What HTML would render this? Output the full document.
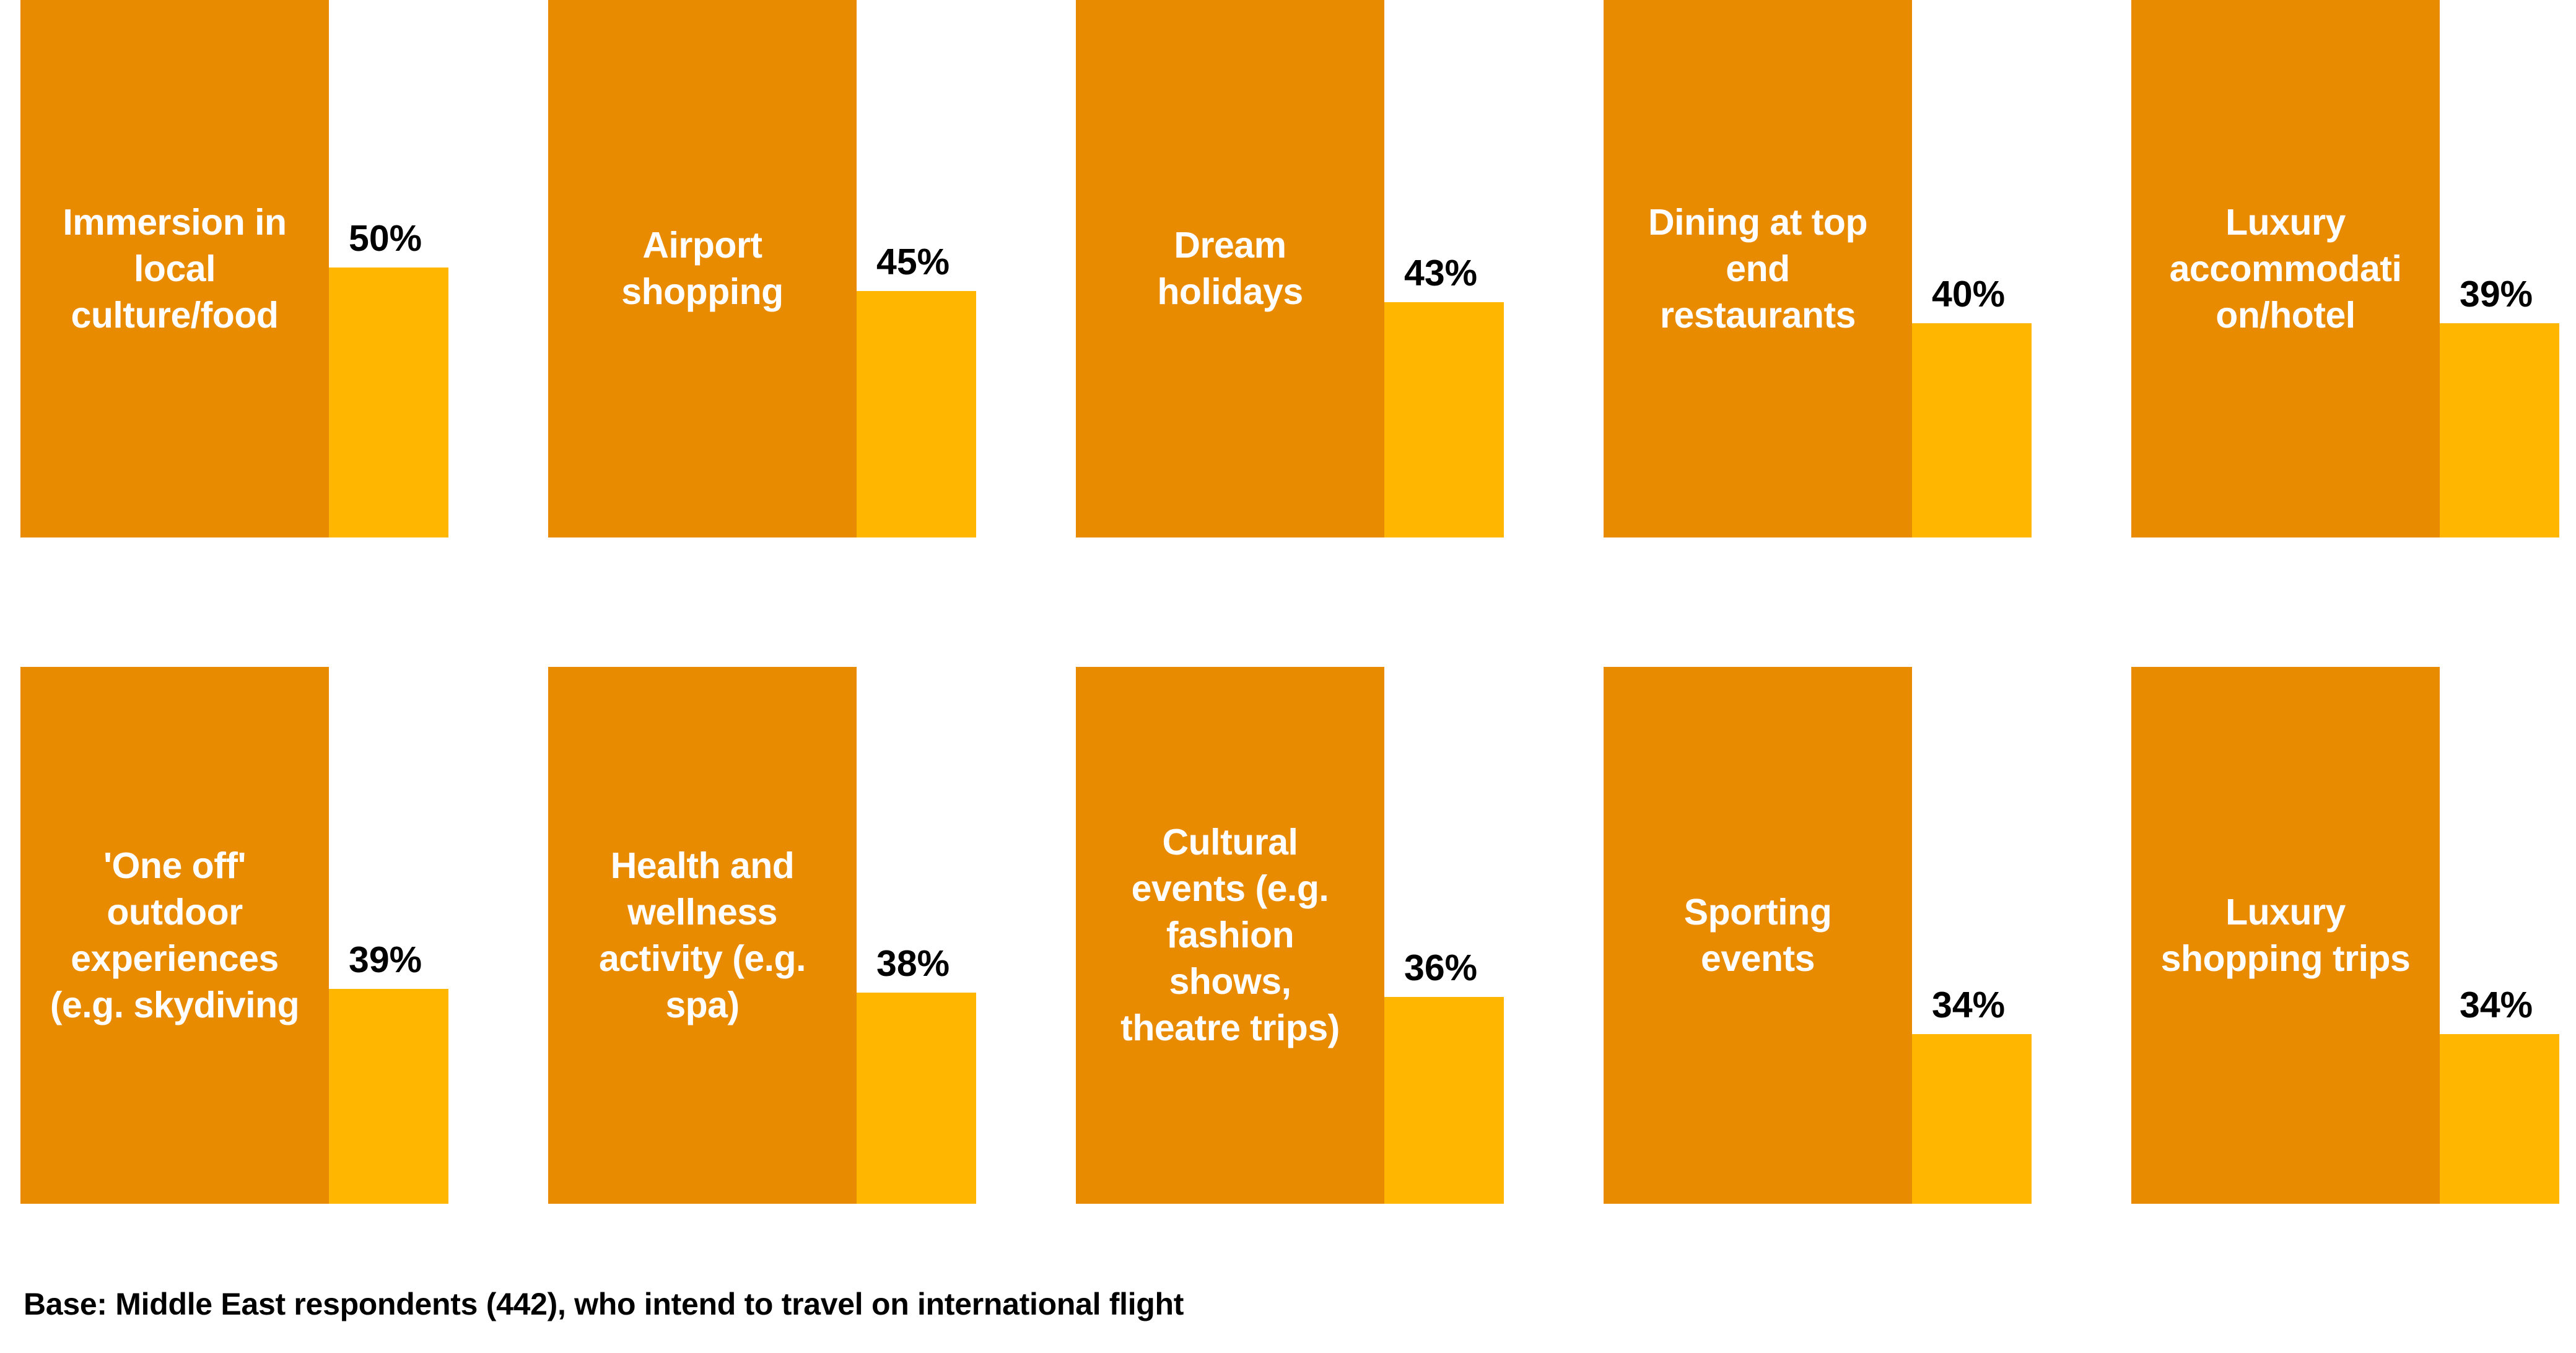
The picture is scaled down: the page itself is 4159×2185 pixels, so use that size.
<!DOCTYPE html>
<html><head><meta charset="utf-8"><style>
html,body{margin:0;padding:0;background:#fff;}
body{width:4159px;height:2185px;position:relative;overflow:hidden;font-family:"Liberation Sans",Arial,sans-serif;font-weight:bold;}
.o{position:absolute;background:#E98B00;width:498px;display:flex;align-items:center;justify-content:center;text-align:center;color:#fff;font-size:59px;line-height:75px;white-space:nowrap;letter-spacing:-0.5px;}
.y{position:absolute;background:#FFB600;width:193px;}
.p{position:absolute;font-size:59px;color:#000;line-height:1;}
.f{position:absolute;left:38px;top:2077px;font-size:50px;color:#000;white-space:nowrap;letter-spacing:-0.3px;}
</style></head><body>
<div class="o" style="left:33px;top:0;height:868px">Immersion in<br>local<br>culture/food</div>
<div class="y" style="left:531px;top:432px;height:436px"></div>
<div class="p" style="left:563px;top:356px">50%</div>

<div class="o" style="left:885px;top:0;height:868px">Airport<br>shopping</div>
<div class="y" style="left:1383px;top:470px;height:398px"></div>
<div class="p" style="left:1415px;top:394px">45%</div>

<div class="o" style="left:1737px;top:0;height:868px">Dream<br>holidays</div>
<div class="y" style="left:2235px;top:488px;height:380px"></div>
<div class="p" style="left:2267px;top:412px">43%</div>

<div class="o" style="left:2589px;top:0;height:868px">Dining at top<br>end<br>restaurants</div>
<div class="y" style="left:3087px;top:522px;height:346px"></div>
<div class="p" style="left:3119px;top:446px">40%</div>

<div class="o" style="left:3441px;top:0;height:868px">Luxury<br>accommodati<br>on/hotel</div>
<div class="y" style="left:3939px;top:522px;height:346px"></div>
<div class="p" style="left:3971px;top:446px">39%</div>

<div class="o" style="left:33px;top:1077px;height:867px">'One off'<br>outdoor<br>experiences<br>(e.g. skydiving</div>
<div class="y" style="left:531px;top:1597px;height:347px"></div>
<div class="p" style="left:563px;top:1521px">39%</div>

<div class="o" style="left:885px;top:1077px;height:867px">Health and<br>wellness<br>activity (e.g.<br>spa)</div>
<div class="y" style="left:1383px;top:1603px;height:341px"></div>
<div class="p" style="left:1415px;top:1527px">38%</div>

<div class="o" style="left:1737px;top:1077px;height:867px">Cultural<br>events (e.g.<br>fashion<br>shows,<br>theatre trips)</div>
<div class="y" style="left:2235px;top:1610px;height:334px"></div>
<div class="p" style="left:2267px;top:1534px">36%</div>

<div class="o" style="left:2589px;top:1077px;height:867px">Sporting<br>events</div>
<div class="y" style="left:3087px;top:1670px;height:274px"></div>
<div class="p" style="left:3119px;top:1594px">34%</div>

<div class="o" style="left:3441px;top:1077px;height:867px">Luxury<br>shopping trips</div>
<div class="y" style="left:3939px;top:1670px;height:274px"></div>
<div class="p" style="left:3971px;top:1594px">34%</div>

<div class="f">Base: Middle East respondents (442), who intend to travel on international flight</div>
</body></html>
